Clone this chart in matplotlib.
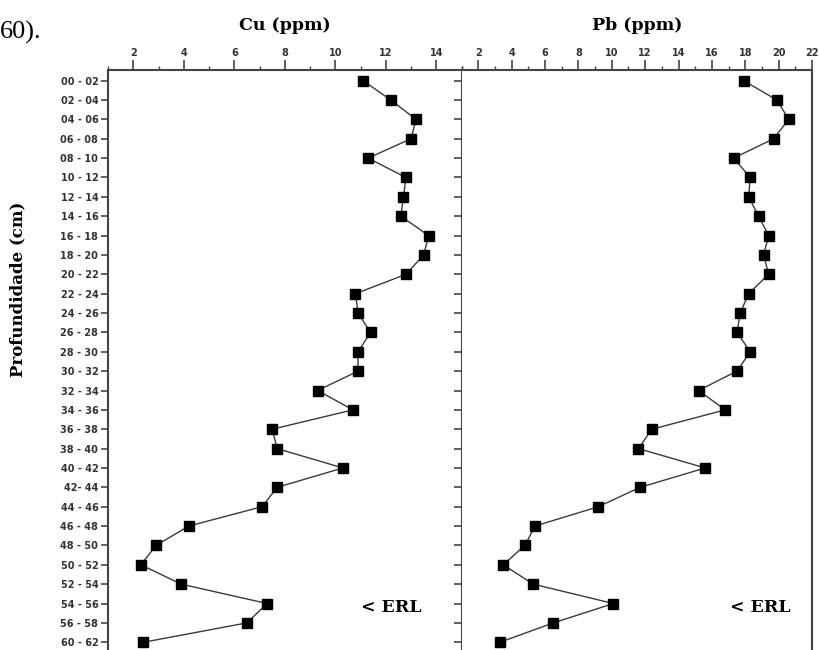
import matplotlib
matplotlib.use("Agg")
import matplotlib.pyplot as plt
from matplotlib.ticker import MultipleLocator

# camadas (profundidade)
camadas = ["00 - 02", "02 - 04", "04 - 06", "06 - 08", "08 - 10", "10 - 12",
           "12 - 14", "14 - 16", "16 - 18", "18 - 20", "20 - 22", "22 - 24",
           "24 - 26", "26 - 28", "28 - 30", "30 - 32", "32 - 34", "34 - 36",
           "36 - 38", "38 - 40", "40 - 42", "42- 44", "44 - 46", "46 - 48",
           "48 - 50", "50 - 52", "52 - 54", "54 - 56", "56 - 58", "60 - 62"]

cu = [11.1, 12.2, 13.2, 13.0, 11.3, 12.8, 12.7, 12.6, 13.7, 13.5,
      12.8, 10.8, 10.9, 11.4, 10.9, 10.9, 9.3, 10.7, 7.5, 7.7,
      10.3, 7.7, 7.1, 4.2, 2.9, 2.3, 3.9, 7.3, 6.5, 2.4]

pb = [17.9, 19.9, 20.6, 19.7, 17.3, 18.3, 18.2, 18.8, 19.4, 19.1,
      19.4, 18.2, 17.7, 17.5, 18.3, 17.5, 15.2, 16.8, 12.4, 11.6,
      15.6, 11.7, 9.2, 5.4, 4.8, 3.5, 5.3, 10.1, 6.5, 3.3]

pos = list(range(len(camadas)))

fig = plt.figure(figsize=(8.19, 6.5), dpi=100)
ax1 = fig.add_axes([0.1319, 0.0, 0.4316, 0.8923])
ax2 = fig.add_axes([0.5635, 0.0, 0.428, 0.8923])

cor_eixo = "#444444"

for ax, dados, lim in [(ax1, cu, (1, 15)), (ax2, pb, (1, 22))]:
    ax.plot(dados, pos, color="#3a3a3a", lw=1.0, marker="s", ms=7.5,
            mfc="black", mec="black", zorder=3)
    ax.set_xlim(lim)
    ax.set_ylim(29.4, -0.55)
    ax.xaxis.tick_top()
    ax.xaxis.set_major_locator(MultipleLocator(2))
    ax.xaxis.set_minor_locator(MultipleLocator(1))
    ax.tick_params(axis="x", which="major", direction="out", length=7,
                   width=1.2, color=cor_eixo, labelsize=7, pad=2)
    ax.tick_params(axis="x", which="minor", direction="out", length=3,
                   width=1.0, color=cor_eixo)
    ax.spines["bottom"].set_visible(False)
    for s in ["top", "left", "right"]:
        ax.spines[s].set_linewidth(1.5)
        ax.spines[s].set_color(cor_eixo)
    for t in ax.get_xticklabels():
        t.set_fontweight("bold")
        t.set_color("#333333")

# eixo y: rótulos à esquerda de Cu, ticks internos no lado direito
ax1.set_yticks(pos)
ax1.set_yticklabels(camadas, fontsize=7, fontweight="bold", color="#333333")
ax1.tick_params(axis="y", which="major", left=True, right=True,
                direction="out", length=5, width=1.2, color=cor_eixo, pad=2)
for ln in ax1.yaxis.get_ticklines()[1::2]:
    ln.set_marker(matplotlib.lines.TICKLEFT)
    ln.set_markersize(6)
ax2.set_yticks([])
ax2.spines["left"].set_visible(False)

ax1.set_title("Cu (ppm)", fontfamily="DejaVu Serif", fontweight="bold",
              fontsize=12.5, pad=29)
ax2.set_title("Pb (ppm)", fontfamily="DejaVu Serif", fontweight="bold",
              fontsize=12.5, pad=29)

fig.text(0.022, 0.555, "Profundidade (cm)", rotation=90, ha="center",
         va="center", fontfamily="DejaVu Serif", fontweight="bold", fontsize=12)

ax1.text(12.2, 27.2, "< ERL", ha="center", va="center",
         fontfamily="DejaVu Serif", fontweight="bold", fontsize=12.5)
ax2.text(18.9, 27.2, "< ERL", ha="center", va="center",
         fontfamily="DejaVu Serif", fontweight="bold", fontsize=12.5)

fig.text(0.0, 1 - 39 / 650, "60).", fontfamily="Liberation Serif",
         fontsize=19, ha="left", va="baseline")

fig.savefig("out.png", dpi=100)
